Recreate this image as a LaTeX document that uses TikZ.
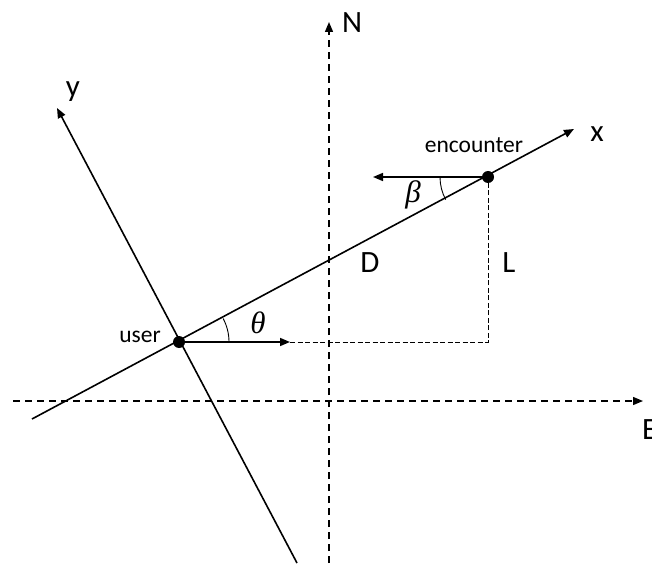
\documentclass[tikz,border=0pt]{standalone}
\usepackage{fontspec}
\setmainfont{Carlito}
\newfontfamily\grkfont{Liberation Serif}
\usetikzlibrary{arrows.meta}
\tikzset{
  tip/.style={-{Triangle[length=10pt,width=8pt]}},
  solidline/.style={line width=1.6pt},
  axisdash/.style={line width=1.4pt, dash pattern=on 7pt off 5pt},
  thindash/.style={line width=0.9pt, dash pattern=on 5pt off 2.5pt},
  dot/.style={circle, fill=black, inner sep=0pt, minimum size=12pt},
  big/.style={font=\fontsize{31}{34}\selectfont, inner sep=0pt},
  small/.style={font=\fontsize{23.5}{26}\selectfont, inner sep=0pt},
  ang/.style={font=\fontsize{31}{34}\selectfont\grkfont\itshape, inner sep=0pt},
}
\begin{document}
\begin{tikzpicture}[x=1pt,y=1pt]
\useasboundingbox (0,0) rectangle (652,563);
% coordinates
\coordinate (es) at (13,162);
\coordinate (ee) at (643,162);
\coordinate (ns) at (329,0);
\coordinate (ne) at (329,541);
\coordinate (xs) at (32,144);
\coordinate (xe) at (574,434);
\coordinate (ys) at (297,0);
\coordinate (ye) at (57,455);
\coordinate (ua) at (290,221);
\coordinate (corner) at (488,221);
\coordinate (ca) at (373,386);
% axes
\draw[axisdash, tip] (es) -- (ee);
\draw[axisdash, tip] (ns) -- (ne);
\draw[solidline, tip] (xs) -- (xe);
\draw[solidline, tip] (ys) -- (ye);
% dots
\node[dot] (user) at (179,221) {};
\node[dot] (enc) at (488,386) {};
% arrows
\draw[solidline, tip] (user.center) -- (ua);
\draw[solidline, tip] (enc.center) -- (ca);
\draw[thindash] (ua) -- (corner) -- (enc.center);
% angle arcs
\draw[line width=0.9pt] ([xshift=50pt]user.center) arc[start angle=0, end angle=28.1, radius=50pt];
\draw[line width=0.9pt] ([xshift=-48pt]enc.center) arc[start angle=180, end angle=208.1, radius=48pt];
% labels
\node[big] (Nl) at (352,540) {N};
\node[big, anchor=west] (El) at (642,133) {E};
\node[big] (xl) at (597,429) {x};
\node[big] (yl) at (73,471) {y};
\node[big] (Dl) at (370,300) {D};
\node[big] (Ll) at (509,300) {L};
\node[small, anchor=east] (ul) at (161,226) {user};
\node[small] (el) at (474,418) {encounter};
\node[ang] (th) at (258,240) {θ};
\node[ang] (be) at (413,368) {β};
\end{tikzpicture}
\end{document}
